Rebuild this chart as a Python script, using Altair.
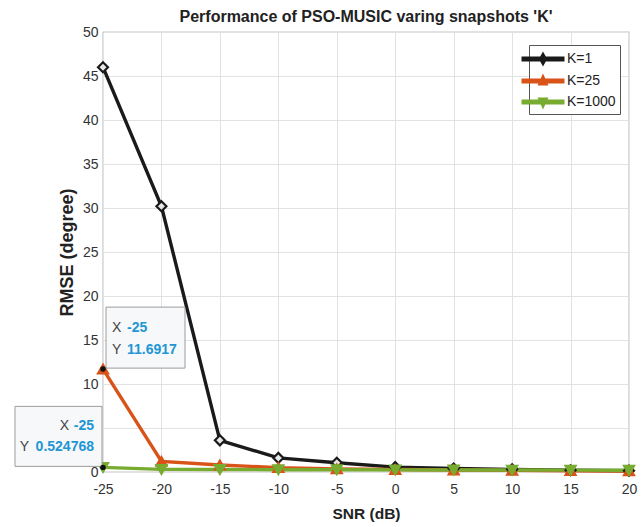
import altair as alt
import pandas as pd

snr = [-25, -20, -15, -10, -5, 0, 5, 10, 15, 20]
series = ["K=1", "K=25", "K=1000"]
rmse_k1 = [46.0, 30.2, 3.6, 1.6, 1.05, 0.55, 0.4, 0.3, 0.2, 0.15]
rmse_k25 = [11.6917, 1.2, 0.8, 0.5, 0.35, 0.28, 0.22, 0.18, 0.15, 0.12]
rmse_k1000 = [0.524768, 0.3, 0.28, 0.26, 0.25, 0.24, 0.23, 0.22, 0.21, 0.2]
colors = ["#1a1a1a", "#d95319", "#77ac30"]
tip_x = [-25, -25]
tip_y = [11.6917, 0.524768]
tip_xtext = ["-25", "-25"]
tip_ytext = ["11.6917", "0.524768"]

rows = []
for name, vals in zip(series, [rmse_k1, rmse_k25, rmse_k1000]):
    for x, y in zip(snr, vals):
        rows.append({"snr": x, "rmse": y, "K": name})
df = pd.DataFrame(rows)

FONT = "Liberation Sans"
xs = alt.Scale(domain=[-25, 20], nice=False, zero=False)
ys = alt.Scale(domain=[0, 50], nice=False)
X = alt.X("snr:Q", scale=xs, title="SNR (dB)",
          axis=alt.Axis(values=snr, labelExpr="'' + datum.value", labelFlush=False))
Y = alt.Y("rmse:Q", scale=ys, title="RMSE (degree)",
          axis=alt.Axis(values=list(range(0, 51, 5)),
                        labelExpr="datum.value == 5 ? '' : '' + datum.value"))
color = alt.Color("K:N", scale=alt.Scale(domain=series, range=colors), sort=series)

base = alt.Chart(df)
lines = base.mark_line(strokeWidth=3.4).encode(x=X, y=Y, color=color.legend(None), order="snr:Q")
points = base.mark_point(size=100, strokeWidth=2.2, opacity=1, filled=False).encode(
    x=X, y=Y,
    stroke=alt.Stroke("K:N", scale=alt.Scale(domain=series, range=colors), legend=None),
    fill=alt.Fill("K:N", scale=alt.Scale(domain=series, range=["#e8e8e8", colors[1], colors[2]]), legend=None),
    shape=alt.Shape("K:N", scale=alt.Scale(domain=series, range=["diamond", "triangle-up", "triangle-down"]), legend=None),
)

# legend symbols: thick line with marker, unit = 10px (size 400); all paths wound clockwise
line_path = "M-2.15,-0.26H2.15V0.26H-2.15Z"
legend_paths = [
    line_path + "M0,-0.75L0.42,0L0,0.75L-0.42,0Z",
    line_path + "M0,-0.75L0.55,0.45H-0.55Z",
    line_path + "M0,0.75L-0.55,-0.45H0.55Z",
]
leg = alt.Legend(title=None, orient="none", legendX=426, legendY=13,
                 symbolSize=400, symbolStrokeWidth=0, symbolOpacity=1,
                 labelFont=FONT, labelFontSize=14, labelColor="#222",
                 strokeColor="#555", fillColor="white", padding=4,
                 rowPadding=4, labelOffset=14)
legend_layer = base.mark_point(size=1, opacity=0, filled=True).encode(
    x=X, y=Y,
    color=alt.Color("K:N", scale=alt.Scale(domain=series, range=colors), sort=series, legend=leg),
    shape=alt.Shape("K:N", scale=alt.Scale(domain=series, range=legend_paths), sort=series, legend=leg),
)

tips = pd.DataFrame({"snr": tip_x, "rmse": tip_y, "xt": tip_xtext, "yt": tip_ytext})
t1 = alt.Chart(tips.iloc[[0]])
t2 = alt.Chart(tips.iloc[[1]])
box_style = dict(fill="#f7f8fa", stroke="#9a9a9a", strokeWidth=1, opacity=0.97)
box1 = t1.mark_rect(xOffset=3, x2Offset=82, yOffset=-62, y2Offset=-1, **box_style).encode(
    x=X, x2="snr:Q", y=Y, y2="rmse:Q")
box2 = t2.mark_rect(xOffset=-88, x2Offset=-1, yOffset=-61, y2Offset=-1, **box_style).encode(
    x=X, x2="snr:Q", y=Y, y2="rmse:Q")
tk = dict(font=FONT, fontSize=14, baseline="middle")
lab_c = "#444"
val_c = "#2196d3"
tip1 = [
    t1.mark_text(align="left", dx=9, dy=-41, color=lab_c, **tk).encode(x=X, y=Y, text=alt.value("X")),
    t1.mark_text(align="left", dx=24, dy=-41, color=val_c, fontWeight="bold", **tk).encode(x=X, y=Y, text="xt:N"),
    t1.mark_text(align="left", dx=9, dy=-19, color=lab_c, **tk).encode(x=X, y=Y, text=alt.value("Y")),
    t1.mark_text(align="left", dx=24, dy=-19, color=val_c, fontWeight="bold", **tk).encode(x=X, y=Y, text="yt:N"),
]
tip2 = [
    t2.mark_text(align="right", dx=-34, dy=-41, color=lab_c, **tk).encode(x=X, y=Y, text=alt.value("X")),
    t2.mark_text(align="right", dx=-9, dy=-41, color=val_c, fontWeight="bold", **tk).encode(x=X, y=Y, text="xt:N"),
    t2.mark_text(align="right", dx=-74, dy=-20, color=lab_c, **tk).encode(x=X, y=Y, text=alt.value("Y")),
    t2.mark_text(align="right", dx=-9, dy=-20, color=val_c, fontWeight="bold", **tk).encode(x=X, y=Y, text="yt:N"),
]
dots = alt.Chart(tips).mark_circle(size=30, color="#111", opacity=1).encode(x=X, y=Y)

chart = alt.layer(lines, points, legend_layer, box1, box2, *tip1, *tip2, dots).resolve_scale(
    shape="independent", color="independent"
).properties(
    width=526, height=440,
    autosize=alt.AutoSizeParams(type="none"),
    padding={"left": 103, "top": 32, "right": 15, "bottom": 55},
    title=alt.Title("Performance of PSO-MUSIC varing snapshots 'K'", font=FONT, fontSize=16,
                    fontWeight="bold", color="#222", offset=0, anchor="middle"),
).configure_view(stroke="#8a8a8a", strokeWidth=1.2).configure_axis(
    grid=True, gridColor="#e2e2e2", gridWidth=1, domain=False, ticks=False,
    labelFont=FONT, labelFontSize=14, labelColor="#333",
    titleFont=FONT, titleFontWeight="bold", titleColor="#222",
).configure_axisX(labelPadding=10, titleFontSize=15.5, titlePadding=10).configure_axisY(
    labelPadding=5, titleFontSize=18, titlePadding=6)

chart.save("out.html", embed_options={"renderer": "svg", "actions": False})
